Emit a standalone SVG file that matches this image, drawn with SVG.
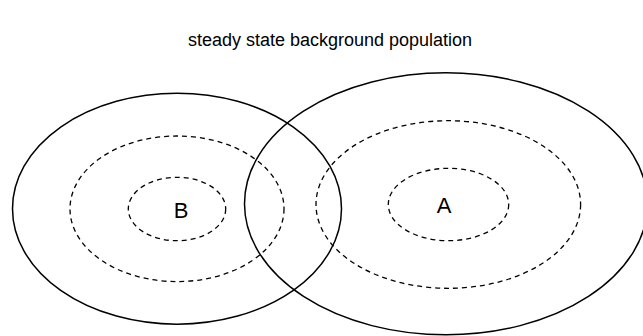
<svg xmlns="http://www.w3.org/2000/svg" width="643" height="336" viewBox="0 0 643 336">
<style>
.solid{fill:none;stroke:#000;stroke-width:1.5}
.dash{fill:none;stroke:#000;stroke-width:1.3;stroke-dasharray:5,4}
text{font-family:"Liberation Sans",Arial,sans-serif;fill:#000}
</style>
<rect width="643" height="336" fill="#fff"/>
<text x="330" y="46" font-size="18" text-anchor="middle">steady state background population</text>
<g id="B">
<ellipse class="solid" cx="177" cy="208.7" rx="164.5" ry="115.5"/>
<ellipse class="dash" cx="177" cy="208.8" rx="107" ry="72.8"/>
<ellipse class="dash" cx="177" cy="209" rx="48.7" ry="31.7"/>
<text x="181" y="218" font-size="22" text-anchor="middle">B</text>
</g>
<g id="A">
<ellipse class="solid" cx="446" cy="203.8" rx="201.5" ry="131"/>
<ellipse class="dash" cx="448.3" cy="204.5" rx="132.3" ry="83.8"/>
<ellipse class="dash" cx="448.5" cy="204.5" rx="60.2" ry="36.2"/>
<text x="444" y="212.5" font-size="22" text-anchor="middle">A</text>
</g>
</svg>
